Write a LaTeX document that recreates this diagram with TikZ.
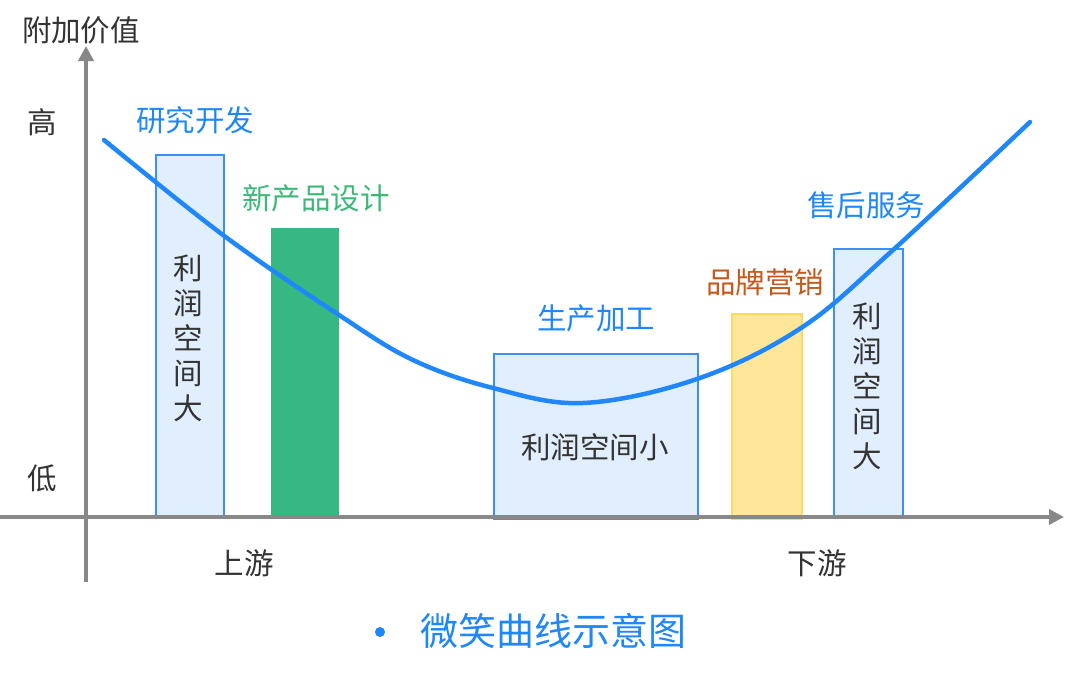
\documentclass[tikz,border=0pt]{standalone}
\usepackage{fontspec}
\newfontfamily\cjk{Noto Sans CJK SC}
\usetikzlibrary{arrows.meta}
\definecolor{axisgray}{HTML}{888888}
\definecolor{txtdark}{HTML}{333333}
\definecolor{curveblue}{HTML}{1F87FA}
\definecolor{boxedge}{HTML}{3D8EF7}
\definecolor{boxfill}{HTML}{E1EEFD}
\definecolor{greenbar}{HTML}{37B883}
\definecolor{greentxt}{HTML}{3CB878}
\definecolor{yellowfill}{HTML}{FFE699}
\definecolor{yellowedge}{HTML}{FFD966}
\definecolor{orangetxt}{HTML}{C8581A}
\tikzset{
  lbl/.style={font=\cjk\fontsize{29.5}{35}\selectfont, inner sep=0pt},
  darklbl/.style={lbl, text=txtdark},
  bluelbl/.style={lbl, text=curveblue},
  profitbox/.style={draw=boxedge, fill=boxfill, line width=2pt, inner sep=0pt, anchor=south west},
  solidbar/.style={fill=greenbar, draw=none, inner sep=0pt, anchor=south west},
  yellowbar/.style={draw=yellowedge, fill=yellowfill, line width=2pt, inner sep=0pt, anchor=south west},
  axisline/.style={draw=axisgray, line width=4pt, -{Triangle[length=15pt,width=15pt]}},
  smile/.style={draw=curveblue, line width=4.5pt, line cap=round}
}
\begin{document}
\begin{tikzpicture}[x=1pt,y=-1pt]
\useasboundingbox (0,0) rectangle (1080,678);
% bars and boxes
\node[profitbox, minimum width=68pt, minimum height=361pt] (rd) at (155,517) {};
\node[solidbar, minimum width=68pt, minimum height=289pt] (design) at (271,517) {};
\node[profitbox, minimum width=204pt, minimum height=165pt] (prod) at (493,520) {};
\node[yellowbar, minimum width=70pt, minimum height=205pt] (brand) at (731,520) {};
\node[profitbox, minimum width=69pt, minimum height=267pt] (service) at (833,517) {};
% texts in boxes
\node[darklbl, align=center] (rdtxt) at (188,338) {利\\润\\空\\间\\大};
\node[darklbl, align=center] (servicetxt) at (867,386) {利\\润\\空\\间\\大};
\node[darklbl] (prodtxt) at (595,447) {利润空间小};
% axes
\coordinate (ybot) at (86,582);
\coordinate (ytop) at (86,46);
\coordinate (xleft) at (0,517);
\coordinate (xright) at (1064,517);
\draw[axisline] (ybot) -- (ytop);
\draw[axisline] (xleft) -- (xright);
% smile curve
\draw[smile] plot[smooth, tension=0.6] coordinates {(104,140) (223,235) (339,315) (413,360) (493,388) (583,403) (697,379) (801,328) (893,250) (1030,122)};
% labels
\node[darklbl] (yname) at (81,30) {附加价值};
\node[darklbl] (high) at (42,122) {高};
\node[darklbl] (low) at (42,478) {低};
\node[bluelbl] (rdlbl) at (195,120) {研究开发};
\node[lbl, text=greentxt] (designlbl) at (316,198) {新产品设计};
\node[bluelbl] (prodlbl) at (596,318) {生产加工};
\node[lbl, text=orangetxt] (brandlbl) at (765,282) {品牌营销};
\node[bluelbl] (servicelbl) at (866,205) {售后服务};
\node[darklbl] (up) at (244,563) {上游};
\node[darklbl] (down) at (817,563) {下游};
\node[circle, fill=curveblue, inner sep=0pt, minimum size=10pt] (bullet) at (380,632) {};
\node[inner sep=0pt, text=curveblue, font=\cjk\fontsize{38}{40}\selectfont] (title) at (553,631) {微笑曲线示意图};
\end{tikzpicture}
\end{document}
